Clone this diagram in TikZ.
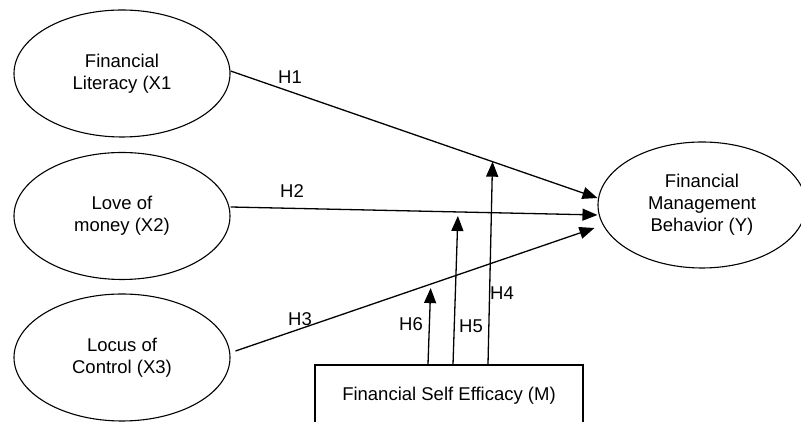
\documentclass[tikz,border=0pt]{standalone}
\usepackage{fontspec}
\setmainfont{Liberation Sans}
\usepackage{tikz}
\usetikzlibrary{positioning, arrows.meta, shapes.geometric}

\begin{document}
\begin{tikzpicture}[x=1pt, y=1pt,
  var/.style={draw, ellipse, line width=1.1pt, minimum width=216pt, minimum height=127pt, inner sep=0pt, align=center, font=\fontsize{18.5}{22}\selectfont},
  mbox/.style={draw, rectangle, line width=1.1pt, minimum width=268pt, minimum height=62pt, inner sep=0pt, font=\fontsize{18.5}{22}\selectfont},
  hyp/.style={inner sep=0pt, font=\fontsize{18.5}{22}\selectfont},
  arr/.style={-{Triangle[length=15pt, width=12pt]}, line width=1.3pt}]
  \useasboundingbox (0,0) rectangle (801,422);
  % variables
  \node[var] (x1) at (122,348.5) {Financial\\Literacy (X1};
  \node[var] (x2) at (122,206) {Love of\\money (X2)};
  \node[var] (x3) at (122,64.5) {Locus of\\Control (X3)};
  \node[var, minimum width=208pt, minimum height=126pt] (y) at (702,217) {Financial\\Management\\Behavior (Y)};
  \node[mbox] (m) at (449,26) {Financial Self Efficacy (M)};
  % direct paths
  \draw[arr] ([yshift=2.5pt]x1.east) -- coordinate[pos=0.714] (h1m) ([yshift=7pt]y.west);
  \draw[arr] ([yshift=9pt]x2.east) -- coordinate[pos=0.62] (h2m) ([yshift=-10pt]y.west);
  \draw[arr] ([shift={(5pt,6.5pt)}]x3.east) -- coordinate[pos=0.544] (h3m) ([shift={(-3pt,-23pt)}]y.west);
  % moderation
  \draw[arr] ([xshift=39pt]m.north) -- (h1m);
  \draw[arr, shorten >=4pt] ([xshift=4pt]m.north) -- (h2m);
  \draw[arr, shorten >=4pt] ([xshift=-21pt]m.north) -- (h3m);
  % labels
  \node[hyp] (h1lab) at (290,345) {H1};
  \node[hyp] (h2lab) at (292,231) {H2};
  \node[hyp] (h3lab) at (300,103) {H3};
  \node[hyp] (h4lab) at (502,129) {H4};
  \node[hyp] (h5lab) at (471,96) {H5};
  \node[hyp] (h6lab) at (411,98) {H6};
\end{tikzpicture}
\end{document}
